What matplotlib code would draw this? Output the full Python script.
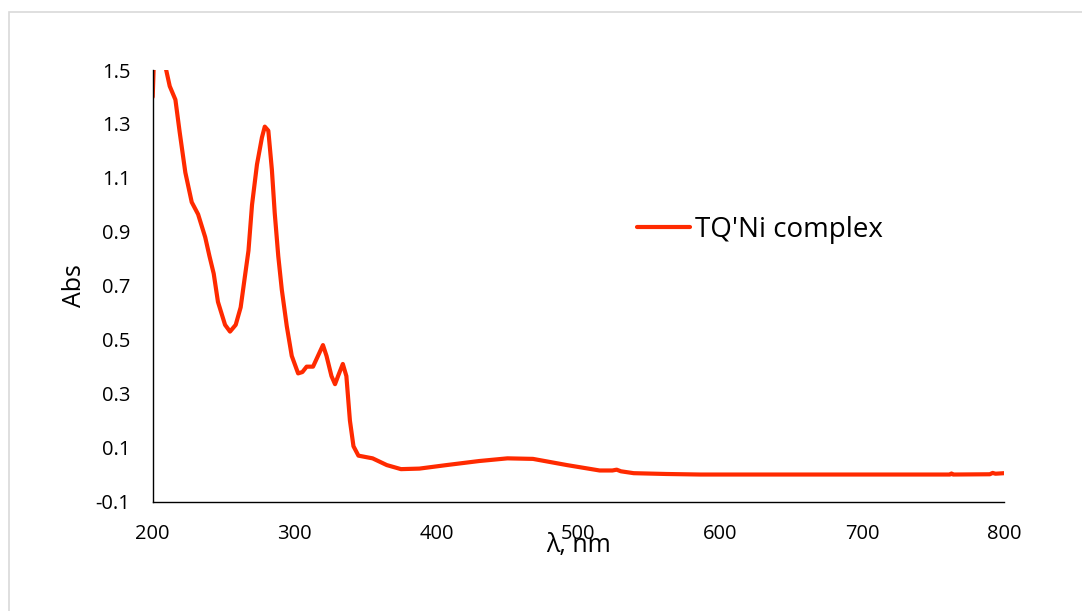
import matplotlib.pyplot as plt
from matplotlib.patches import Rectangle

# UV-Vis spectrum
wavelength = [200, 201, 204, 207, 209.5, 212, 216, 219, 223, 227.5, 232, 237, 240, 243,
              246, 251, 254.5, 258.5, 262, 265, 267.5, 270, 273.5, 277, 279, 281.5, 284,
              286, 288.5, 291, 294.5, 298, 302.5, 305.5, 308.5, 313, 316.5, 320, 322.5,
              326, 328.5, 331, 334, 336.5, 339, 341.5, 345, 355, 365, 375, 388, 407, 430,
              450, 468, 492, 515, 524, 527, 530, 539, 562, 586, 650, 700, 762, 763, 764,
              790, 792, 794, 800]
absorbance = [1.40, 1.56, 1.62, 1.56, 1.50, 1.44, 1.39, 1.27, 1.12, 1.01, 0.965, 0.88, 0.81, 0.745,
              0.64, 0.555, 0.53, 0.555, 0.62, 0.735, 0.83, 1.00, 1.15, 1.25, 1.29, 1.275, 1.13,
              0.97, 0.81, 0.685, 0.55, 0.44, 0.375, 0.38, 0.40, 0.40, 0.44, 0.48, 0.44,
              0.365, 0.335, 0.37, 0.41, 0.365, 0.20, 0.105, 0.07, 0.06, 0.035, 0.02, 0.022, 0.035, 0.05,
              0.06, 0.058, 0.035, 0.015, 0.015, 0.018, 0.012, 0.005, 0.002, 0.0, 0.0, 0.0, 0.0, 0.004, 0.0,
              0.001, 0.006, 0.003, 0.005]

x_ticks = [200, 300, 400, 500, 600, 700, 800]
y_ticks = [-0.1, 0.1, 0.3, 0.5, 0.7, 0.9, 1.1, 1.3, 1.5]

plt.rcParams['font.family'] = ['Open Sans', 'DejaVu Sans']

fig = plt.figure(figsize=(10.82, 6.11), dpi=100)
ax = fig.add_axes([152.7 / 1082, 1 - 501.5 / 611, 851.3 / 1082, 431.5 / 611])

# light grey chart-area border
fig.patches.append(Rectangle((9 / 1082, -0.1), 1.2, (611 - 12) / 611 + 0.1,
                             transform=fig.transFigure, fill=False,
                             edgecolor='#d9d9d9', lw=1.2))

ax.plot(wavelength, absorbance, color='#ff2a00', lw=3, label="TQ'Ni complex",
        solid_joinstyle='round', solid_capstyle='round')

ax.set_xlim(200, 800)
ax.set_ylim(-0.1, 1.5)
ax.set_xticks(x_ticks)
ax.set_yticks(y_ticks)
ax.set_yticklabels(['-0.1', '0.1', '0.3', '0.5', '0.7', '0.9', '1.1', '1.3', '1.5'])
ax.tick_params(length=0, labelsize=14.5, pad=16, colors='black')

for s in ['top', 'right']:
    ax.spines[s].set_visible(False)
for s in ['left', 'bottom']:
    ax.spines[s].set_linewidth(1.0)
    ax.spines[s].set_color('black')

ax.set_xlabel('λ, nm', fontsize=18)
ax.xaxis.set_label_coords(0.5, -0.074)
ax.xaxis.label.set_va('top')
ax.set_ylabel('Abs', fontsize=18)
ax.yaxis.set_label_coords(-0.077, 0.5)

ax.legend(loc='center left', bbox_to_anchor=(637 / 1082, 1 - 230 / 611),
          bbox_transform=fig.transFigure, frameon=False, fontsize=20,
          handlelength=1.9, handletextpad=0.2, borderpad=0, borderaxespad=0)

plt.savefig('out.png')
